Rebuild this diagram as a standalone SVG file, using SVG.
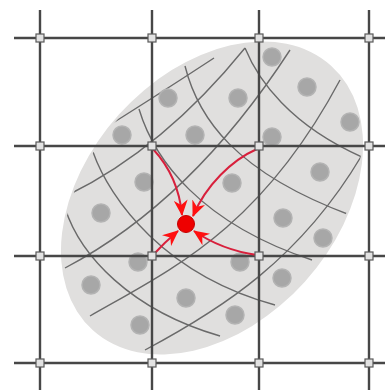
<svg xmlns="http://www.w3.org/2000/svg" width="385" height="390" viewBox="0 0 385 390">
  <defs>
    <style>
      .grid { stroke: #474747; stroke-width: 2.4; fill: none; }
      .node { fill: #e2e2e2; stroke: #5a5a5a; stroke-width: 1.2; }
      .mesh { stroke: #6a6a6a; stroke-width: 1.4; fill: none; }
      .dot { fill: #a7a7a7; stroke: #b3b3b3; stroke-width: 1.5; }
      .arrow { stroke: #d8203c; stroke-width: 2; fill: none; marker-end: url(#head); }
    </style>
    <marker id="head" viewBox="0 0 16 14" refX="15" refY="7" markerWidth="16" markerHeight="14" markerUnits="userSpaceOnUse" orient="auto">
      <path d="M0,0 L16,7 L0,14 L5,7 Z" fill="#ff1010"/>
    </marker>
    <clipPath id="ellClip">
      <ellipse cx="212" cy="198" rx="176" ry="123" transform="rotate(-48 212 198)"/>
    </clipPath>
  </defs>

  <rect width="385" height="390" fill="#ffffff"/>

  <g id="body">
    <ellipse cx="212" cy="198" rx="178" ry="125" transform="rotate(-48 212 198)" fill="#e0dfde"/>
    <g clip-path="url(#ellClip)">
      <g id="mesh-ne">
        <path class="mesh" d="M92,136 Q150,100 214,58"/>
        <path class="mesh" d="M68,195 Q164,148 245,48"/>
        <path class="mesh" d="M65,268 Q192,201 290,50"/>
        <path class="mesh" d="M90,316 C170,270 260,230 340,80"/>
        <path class="mesh" d="M145,350 C220,310 300,260 362,155"/>
      </g>
      <g id="mesh-se">
        <path class="mesh" d="M245,48 C258,80 290,125 362,157"/>
        <path class="mesh" d="M185,66 C198,118 235,172 350,215"/>
        <path class="mesh" d="M139,109 C154,159 200,223 312,260"/>
        <path class="mesh" d="M93,152 C110,200 165,275 275,305"/>
        <path class="mesh" d="M65,208 C80,255 130,310 220,336"/>
      </g>
    </g>
    <g id="particles">
      <circle class="dot" cx="272" cy="57" r="9"/>
      <circle class="dot" cx="307" cy="87" r="9"/>
      <circle class="dot" cx="238" cy="98" r="9"/>
      <circle class="dot" cx="168" cy="98" r="9"/>
      <circle class="dot" cx="350" cy="122" r="9"/>
      <circle class="dot" cx="122" cy="135" r="9"/>
      <circle class="dot" cx="195" cy="135" r="9"/>
      <circle class="dot" cx="272" cy="137" r="9"/>
      <circle class="dot" cx="320" cy="172" r="9"/>
      <circle class="dot" cx="144" cy="182" r="9"/>
      <circle class="dot" cx="232" cy="183" r="9"/>
      <circle class="dot" cx="101" cy="213" r="9"/>
      <circle class="dot" cx="283" cy="218" r="9"/>
      <circle class="dot" cx="323" cy="238" r="9"/>
      <circle class="dot" cx="138" cy="262" r="9"/>
      <circle class="dot" cx="240" cy="262" r="9"/>
      <circle class="dot" cx="282" cy="278" r="9"/>
      <circle class="dot" cx="91" cy="285" r="9"/>
      <circle class="dot" cx="186" cy="298" r="9"/>
      <circle class="dot" cx="235" cy="315" r="9"/>
      <circle class="dot" cx="140" cy="325" r="9"/>
    </g>
  </g>

  <g id="grid-lines">
    <line class="grid" x1="40" y1="10" x2="40" y2="390"/>
    <line class="grid" x1="152" y1="10" x2="152" y2="390"/>
    <line class="grid" x1="259" y1="10" x2="259" y2="390"/>
    <line class="grid" x1="369" y1="10" x2="369" y2="390"/>
    <line class="grid" x1="14" y1="38" x2="385" y2="38"/>
    <line class="grid" x1="14" y1="146" x2="385" y2="146"/>
    <line class="grid" x1="14" y1="256" x2="385" y2="256"/>
    <line class="grid" x1="14" y1="363" x2="385" y2="363"/>
  </g>

  <g id="connectors">
    <path class="arrow" d="M153,149 C165,162 179,182 182,215"/>
    <path class="arrow" d="M257,149 C232,160 206,185 193,216"/>
    <path class="arrow" d="M154,254 Q165,242 178,231"/>
    <path class="arrow" d="M257,255 C236,252 213,244 194,231"/>
  </g>

  <g id="n-40-38"><rect class="node" x="36" y="34" width="8" height="8"/></g>
  <g id="n-152-38"><rect class="node" x="148" y="34" width="8" height="8"/></g>
  <g id="n-259-38"><rect class="node" x="255" y="34" width="8" height="8"/></g>
  <g id="n-369-38"><rect class="node" x="365" y="34" width="8" height="8"/></g>
  <g id="n-40-146"><rect class="node" x="36" y="142" width="8" height="8"/></g>
  <g id="n-152-146"><rect class="node" x="148" y="142" width="8" height="8"/></g>
  <g id="n-259-146"><rect class="node" x="255" y="142" width="8" height="8"/></g>
  <g id="n-369-146"><rect class="node" x="365" y="142" width="8" height="8"/></g>
  <g id="n-40-256"><rect class="node" x="36" y="252" width="8" height="8"/></g>
  <g id="n-152-256"><rect class="node" x="148" y="252" width="8" height="8"/></g>
  <g id="n-259-256"><rect class="node" x="255" y="252" width="8" height="8"/></g>
  <g id="n-369-256"><rect class="node" x="365" y="252" width="8" height="8"/></g>
  <g id="n-40-363"><rect class="node" x="36" y="359" width="8" height="8"/></g>
  <g id="n-152-363"><rect class="node" x="148" y="359" width="8" height="8"/></g>
  <g id="n-259-363"><rect class="node" x="255" y="359" width="8" height="8"/></g>
  <g id="n-369-363"><rect class="node" x="365" y="359" width="8" height="8"/></g>

  <g id="particle-red">
    <circle cx="186" cy="224" r="8.5" fill="#ee0000" stroke="#c40000" stroke-width="1"/>
  </g>
</svg>
